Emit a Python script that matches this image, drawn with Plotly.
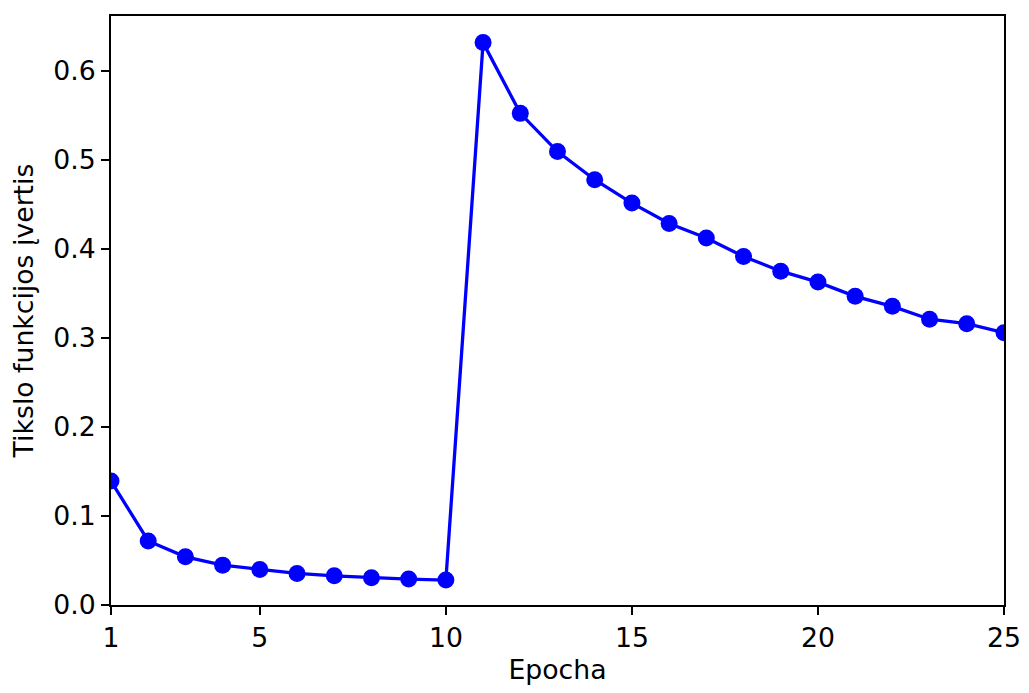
import plotly.graph_objects as go

epochs = list(range(1, 26))
loss = [0.1392, 0.0720, 0.0541, 0.0448, 0.0400, 0.0355, 0.0328, 0.0306, 0.0291, 0.0280,
        0.6319, 0.5524, 0.5095, 0.4778, 0.4516, 0.4286, 0.4124, 0.3916, 0.3751, 0.3628,
        0.3468, 0.3356, 0.3211, 0.3161, 0.3060]
x_ticks = [1, 5, 10, 15, 20, 25]
y_ticks = [0.0, 0.1, 0.2, 0.3, 0.4, 0.5, 0.6]

fig = go.Figure()
fig.add_trace(go.Scatter(
    x=epochs, y=loss, mode="lines+markers",
    line=dict(color="#0000ff", width=3.3),
    marker=dict(color="#0000ff", size=17),
    cliponaxis=True, showlegend=False,
))

font = dict(family="DejaVu Sans", size=26.7, color="black")
fig.update_layout(
    width=1021, height=685,
    margin=dict(l=103, r=25, t=6, b=88),
    paper_bgcolor="white", plot_bgcolor="white",
    font=font,
)
fig.update_xaxes(
    range=[1, 25], tickvals=x_ticks, ticktext=[str(v) for v in x_ticks],
    showgrid=False, zeroline=False,
    showline=True, linecolor="black", linewidth=2, mirror=True,
    ticks="outside", ticklen=8, tickwidth=2, tickcolor="black",
    title=dict(text="Epocha", font=font, standoff=8),
)
fig.update_yaxes(
    range=[0, 0.6618], tickvals=y_ticks, ticktext=[f"{v:.1f}" for v in y_ticks],
    showgrid=False, zeroline=False,
    showline=True, linecolor="black", linewidth=2, mirror=True,
    ticks="outside", ticklen=8, tickwidth=2, tickcolor="black",
    title=dict(text="Tikslo funkcijos įvertis", font=font, standoff=18),
)
fig.write_html("out.html")
